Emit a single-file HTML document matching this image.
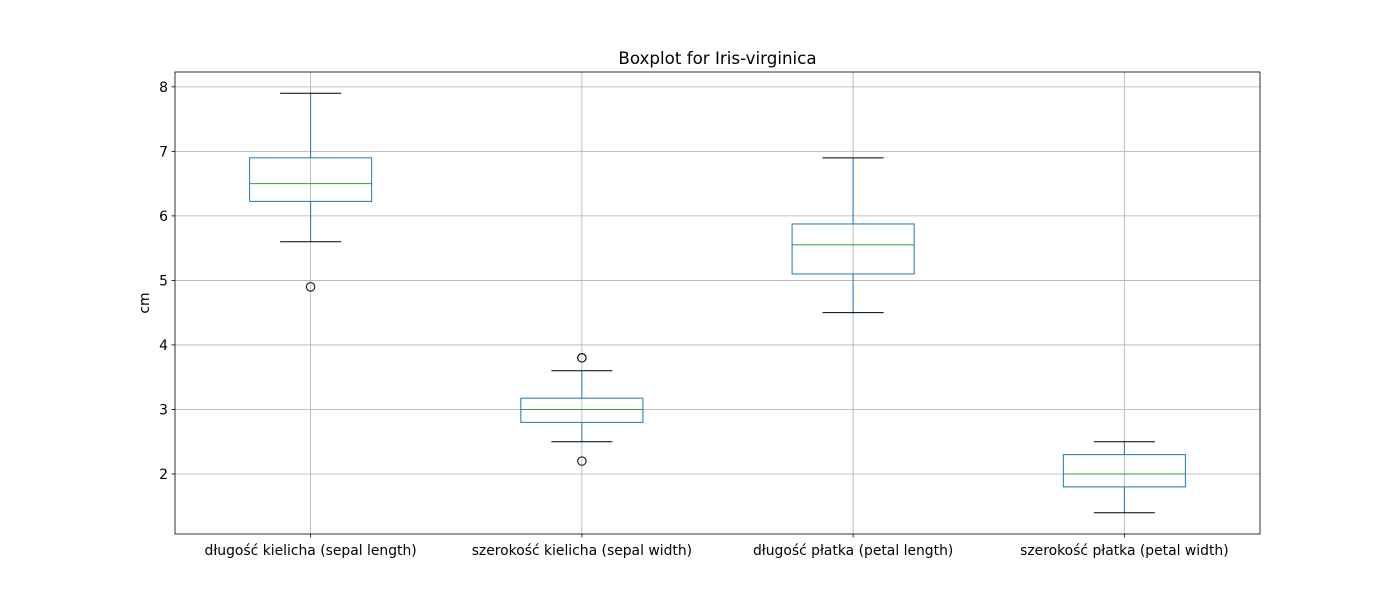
<!DOCTYPE html>
<html><head><meta charset="utf-8"><style>body{margin:0;background:#fff}svg{display:block;font-family:"DejaVu Sans","Liberation Sans",sans-serif}</style></head>
<body>
<svg id="chart" width="1400" height="600"></svg>
<script>
const categories=["długość kielicha (sepal length)","szerokość kielicha (sepal width)","długość płatka (petal length)","szerokość płatka (petal width)"];
const whiskerLow=[5.6,2.5,4.5,1.4];
const q1=[6.225,2.8,5.1,1.8];
const medians=[6.5,3.0,5.55,2.0];
const q3=[6.9,3.175,5.875,2.3];
const whiskerHigh=[7.9,3.6,6.9,2.5];
const outliers=[[4.9],[3.8,3.8,2.2],[],[]];
const yTicks=[2,3,4,5,6,7,8];
const L=175,R=1260,T=72,B=534;
const yMin=1.07,yMax=8.23;
const y=v=>B-(v-yMin)/(yMax-yMin)*(B-T);
const step=(R-L)/categories.length;
const x=i=>L+step*(i+0.5);
const svg=document.getElementById('chart');
const NS='http://www.w3.org/2000/svg';
function mk(t,a,txt){const e=document.createElementNS(NS,t);for(const k in a)e.setAttribute(k,a[k]);if(txt!==undefined)e.textContent=txt;svg.appendChild(e);return e;}
yTicks.forEach(v=>{const g=mk('line',{x1:L,x2:R,y1:y(v),y2:y(v),stroke:'#b0b0b0','stroke-width':0.8});


const tk=mk('line',{x1:L-3.5,x2:L,y1:y(v),y2:y(v),stroke:'#000','stroke-width':0.8});


const t=mk('text',{x:L-7,y:y(v)+5,'text-anchor':'end','font-size':13.9},v);

});
categories.forEach((c,i)=>{const g=mk('line',{x1:x(i),x2:x(i),y1:T,y2:B,stroke:'#b0b0b0','stroke-width':0.8});


const tk=mk('line',{x1:x(i),x2:x(i),y1:B,y2:B+3.5,stroke:'#000','stroke-width':0.8});


const t=mk('text',{x:x(i),y:B+21,'text-anchor':'middle','font-size':13.9},c);

});
const bw=step*0.45,cw=bw/2;
categories.forEach((c,i)=>{const cx=x(i);
const w1=mk('line',{x1:cx,x2:cx,y1:y(q1[i]),y2:y(whiskerLow[i]),stroke:'#1f77b4','stroke-width':1});


const w2=mk('line',{x1:cx,x2:cx,y1:y(q3[i]),y2:y(whiskerHigh[i]),stroke:'#1f77b4','stroke-width':1});


[whiskerLow[i],whiskerHigh[i]].forEach(v=>{const cp=mk('line',{x1:cx-cw/2,x2:cx+cw/2,y1:y(v),y2:y(v),stroke:'#000','stroke-width':1});

});
const b=mk('rect',{x:cx-bw/2,y:y(q3[i]),width:bw,height:y(q1[i])-y(q3[i]),fill:'none',stroke:'#1f77b4','stroke-width':1});


const m=mk('line',{x1:cx-bw/2,x2:cx+bw/2,y1:y(medians[i]),y2:y(medians[i]),stroke:'#2ca02c','stroke-width':1});


outliers[i].forEach(v=>{const o=mk('circle',{cx:cx,cy:y(v),r:4.2,fill:'none',stroke:'#000','stroke-width':1});

});});
const fr=mk('rect',{x:L,y:T,width:R-L,height:B-T,fill:'none',stroke:'#000','stroke-width':0.8});


const ti=mk('text',{x:(L+R)/2,y:64,'text-anchor':'middle','font-size':16.7},'Boxplot for Iris-virginica');


const yl=mk('text',{x:149,y:(T+B)/2,'text-anchor':'middle','font-size':13.9,transform:`rotate(-90 149 ${(T+B)/2})`},'cm');


</script>
</body></html>
